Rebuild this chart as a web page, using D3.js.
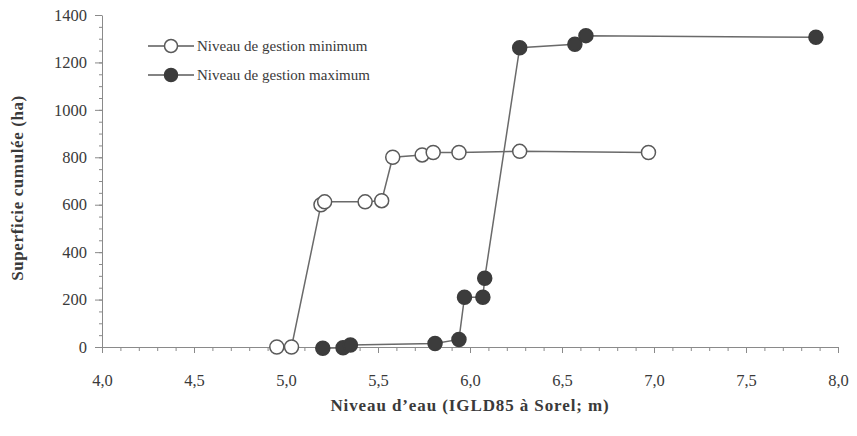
<!DOCTYPE html>
<html>
<head>
<meta charset="utf-8">
<script src="https://cdn.jsdelivr.net/npm/d3@7"></script>
<style>
  body { margin: 0; background: #fff; }
  svg text { font-family: "Liberation Serif", "DejaVu Serif", serif; fill: #3a3a3a; }
</style>
</head>
<body>
<div id="graph"></div>
<script>
'use strict';

// water level (m) for the minimum management level
const minLevel = [4.95, 5.03, 5.19, 5.21, 5.43, 5.52, 5.58, 5.74, 5.80, 5.94, 6.27, 6.97];
const minArea  = [0, 0, 600, 612, 612, 617, 800, 810, 820, 820, 825, 820];

// water level (m) for the maximum management level
const maxLevel = [5.20, 5.31, 5.35, 5.81, 5.94, 5.97, 6.07, 6.08, 6.27, 6.57, 6.63, 7.88];
const maxArea  = [-5, -3, 8, 15, 32, 210, 210, 290, 1262, 1277, 1313, 1306];

const xTicks = [4.0, 4.5, 5.0, 5.5, 6.0, 6.5, 7.0, 7.5, 8.0];
const yTicks = [0, 200, 400, 600, 800, 1000, 1200, 1400];
const seriesNames = ["Niveau de gestion minimum", "Niveau de gestion maximum"];

const svg = d3.select('#graph').append('svg')
  .attr('width', 857)
  .attr('height', 436);

const xScale = d3.scaleLinear().domain([4, 8]).range([102, 838]);
const yScale = d3.scaleLinear().domain([0, 1400]).range([347, 15]);
const fmt = d => d3.format('.1f')(d).replace('.', ',');

// minor ticks first
svg.append('g')
  .attr('transform', 'translate(0,347)')
  .call(d3.axisBottom(xScale).tickValues(d3.range(40, 81).map(d => d / 10)).tickSize(4).tickFormat(''))
  .call(g => g.select('.domain').remove());
svg.append('g')
  .attr('transform', 'translate(102,0)')
  .call(d3.axisLeft(yScale).tickValues(d3.range(0, 1401, 50)).tickSize(3).tickFormat(''))
  .call(g => g.select('.domain').remove());

// x axis
svg.append('g')
  .attr('class', 'axis')
  .attr('transform', 'translate(0,347)')
  .call(d3.axisBottom(xScale).tickValues(xTicks).tickSize(6).tickSizeOuter(0).tickPadding(21).tickFormat(fmt));

// y axis
svg.append('g')
  .attr('class', 'axis')
  .attr('transform', 'translate(102,0)')
  .call(d3.axisLeft(yScale).tickValues(yTicks).tickSize(7).tickSizeOuter(0).tickPadding(8).tickFormat(d3.format('d')));

svg.selectAll('.tick line').attr('stroke', '#8a8a8a');
svg.selectAll('.domain').attr('stroke', '#8a8a8a');
svg.selectAll('.axis')
  .attr('font-family', '"Liberation Serif", serif')
  .attr('font-size', 16);
svg.selectAll('.axis text')
  .style('font-size', '16.5px')
  .style('font-family', '"Liberation Serif", serif')
  .attr('fill', '#3a3a3a');

// axis titles
svg.append('text')
  .attr('x', 470)
  .attr('y', 411)
  .attr('text-anchor', 'middle')
  .style('font-size', '17px')
  .style('letter-spacing', '0.9px')
  .style('font-weight', 'bold')
  .text('Niveau d’eau (IGLD85 à Sorel; m)');

svg.append('text')
  .attr('transform', 'translate(23,188)rotate(-90)')
  .attr('text-anchor', 'middle')
  .style('font-size', '17px')
  .style('letter-spacing', '0.6px')
  .style('font-weight', 'bold')
  .text('Superficie cumulée (ha)');

// series
const line = d3.line().x(d => xScale(d[0])).y(d => yScale(d[1]));
const minData = minLevel.map((v, i) => [v, minArea[i]]);
const maxData = maxLevel.map((v, i) => [v, maxArea[i]]);

function drawSeries(data, fill) {
  svg.append('path')
    .datum(data)
    .attr('d', line)
    .attr('fill', 'none')
    .attr('stroke', '#6a6a6a')
    .attr('stroke-width', 1.5);
  svg.append('g').selectAll('circle')
    .data(data)
    .enter()
    .append('circle')
      .attr('cx', d => xScale(d[0]))
      .attr('cy', d => yScale(d[1]))
      .attr('r', 7)
      .attr('fill', fill)
      .attr('stroke', fill === '#fff' ? '#5a5a5a' : '#3c3c3c')
      .attr('stroke-width', 1.5);
}
drawSeries(minData, '#fff');
drawSeries(maxData, '#3c3c3c');

// legend
const legend = svg.append('g');
seriesNames.forEach((name, i) => {
  const y = 46 + i * 29;
  legend.append('line')
    .attr('x1', 148).attr('x2', 194)
    .attr('y1', y).attr('y2', y)
    .attr('stroke', '#5a5a5a').attr('stroke-width', 1.5);
  legend.append('circle')
    .attr('cx', 171).attr('cy', y).attr('r', 6.5)
    .attr('fill', i === 0 ? '#fff' : '#3c3c3c')
    .attr('stroke', i === 0 ? '#5a5a5a' : '#3c3c3c')
    .attr('stroke-width', 1.5);
  legend.append('text')
    .attr('x', 197).attr('y', y + 5)
    .style('font-size', '15px')
    .text(name);
});
</script>
</body>
</html>
